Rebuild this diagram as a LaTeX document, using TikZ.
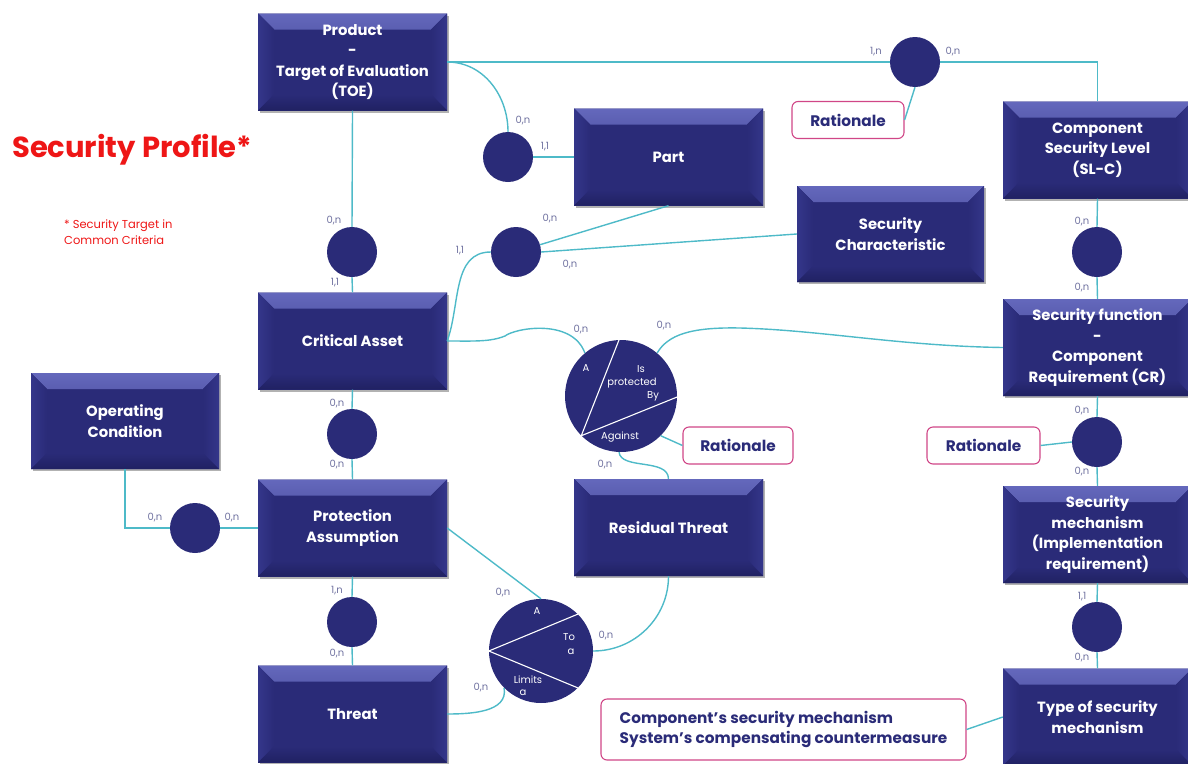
\documentclass[tikz,border=0pt]{standalone}
\usepackage{fontspec}
\setmainfont{Poppins}
\usetikzlibrary{shadows,calc}
\definecolor{navy}{RGB}{42,43,120}
\definecolor{navytop}{RGB}{100,104,188}
\definecolor{navyside}{RGB}{52,54,138}
\definecolor{navydark}{RGB}{32,33,98}
\definecolor{link}{RGB}{78,186,200}
\definecolor{rose}{RGB}{208,70,135}
\definecolor{cardgray}{RGB}{112,114,160}
\definecolor{titlered}{RGB}{238,22,22}
\begin{document}
\begin{tikzpicture}[x=1pt,y=-1pt,
  entity/.style={rectangle, fill=navy, minimum width=189pt, minimum height=97pt,
    inner sep=0pt, text=white, align=center,
    font=\fontsize{14.8}{20.5}\selectfont\bfseries,
    drop shadow={shadow xshift=1.5pt, shadow yshift=-2pt, opacity=0.3, fill=black},
    path picture={
      \fill[top color=navytop, bottom color=navy]
        (path picture bounding box.north west) -- (path picture bounding box.north east)
        -- ([shift={(-16pt,-16pt)}]path picture bounding box.north east)
        -- ([shift={(16pt,-16pt)}]path picture bounding box.north west) -- cycle;
      \fill[left color=navyside, right color=navy]
        (path picture bounding box.north west) -- ([shift={(16pt,-16pt)}]path picture bounding box.north west)
        -- ([shift={(16pt,16pt)}]path picture bounding box.south west)
        -- (path picture bounding box.south west) -- cycle;
      \fill[left color=navy, right color=navyside]
        (path picture bounding box.north east) -- ([shift={(-16pt,-16pt)}]path picture bounding box.north east)
        -- ([shift={(-16pt,16pt)}]path picture bounding box.south east)
        -- (path picture bounding box.south east) -- cycle;
      \fill[top color=navy, bottom color=navydark]
        (path picture bounding box.south west) -- ([shift={(16pt,16pt)}]path picture bounding box.south west)
        -- ([shift={(-16pt,16pt)}]path picture bounding box.south east)
        -- (path picture bounding box.south east) -- cycle;
    }},
  rel/.style={circle, fill=navy, minimum size=50pt, inner sep=0pt},
  bigrel/.style={circle, fill=navy, inner sep=0pt},
  card/.style={text=cardgray, font=\fontsize{10}{11}\selectfont, inner sep=0pt},
  inner/.style={text=white, font=\fontsize{10}{11}\selectfont, inner sep=0pt},
  split/.style={draw=white, line width=1.1pt},
  rationale/.style={rectangle, rounded corners=6pt, draw=rose, line width=1.1pt, fill=white,
    text=navy, font=\fontsize{15.3}{20.5}\selectfont\bfseries, minimum width=112pt, minimum height=37pt, inner sep=0pt},
  conn/.style={draw=link, line width=1.4pt}
]
\useasboundingbox (0,0) rectangle (1188,763);

% title
\node[anchor=west, text=titlered, font=\fontsize{29}{32}\selectfont\bfseries, inner sep=0pt] (title) at (12,150) {Security Profile*};
\node[anchor=west, text=titlered, font=\fontsize{11.5}{16}\selectfont, align=left, inner sep=0pt] (subtitle) at (64,232) {* Security Target in\\Common Criteria};

% entities
\node[entity] (toe) at (352.5,62) {Product\\-\\Target of Evaluation\\(TOE)};
\node[entity] (ca) at (352.5,341) {Critical Asset};
\node[entity, minimum width=188pt, minimum height=96pt] (oc) at (125,421) {Operating\\Condition};
\node[entity] (pa) at (352.5,528) {Protection\\Assumption};
\node[entity] (threat) at (352.5,714) {Threat};
\node[entity] (part) at (668.5,157) {Part};
\node[entity, minimum width=187pt, minimum height=96pt] (schar) at (890.5,234) {Security\\Characteristic};
\node[entity] (slc) at (1097.5,150) {Component\\Security Level\\(SL-C)};
\node[entity] (cr) at (1097.5,347.5) {Security function\\-\\Component\\Requirement (CR)};
\node[entity] (sm) at (1097.5,534.5) {Security\\mechanism\\(Implementation\\requirement)};
\node[entity] (type) at (1097.5,717) {Type of security\\mechanism};
\node[entity] (rt) at (668.5,527.5) {Residual Threat};

% rationales
\node[rationale] (rat1) at (848,120) {Rationale};
\node[rationale, minimum width=110pt] (rat2) at (738,445.5) {Rationale};
\node[rationale, minimum width=113pt] (rat3) at (983.5,445.5) {Rationale};
\node[rationale, minimum width=365pt, minimum height=61pt, align=left] (bigrat) at (783.5,729.5) {Component's security mechanism\\System's compensating countermeasure};

% relationships
\node[rel] (r1) at (352,252) {};
\node[rel] (r2) at (508,157) {};
\node[rel] (r3) at (516,252) {};
\node[rel] (r4) at (915,62) {};
\node[rel] (r5) at (1097,252) {};
\node[rel] (r6) at (352,434) {};
\node[rel] (r7) at (195,528) {};
\node[rel] (r8) at (352,622) {};
\node[rel] (r9) at (1097,442) {};
\node[rel] (r10) at (1097,627) {};
\node[bigrel, minimum size=112pt] (pc) at (621,396) {};
\node[bigrel, minimum size=104pt] (tc) at (541,651) {};

% partitions of the ternary relationships
\draw[split] (pc.92) -- (pc.225) -- (pc.-1);
\draw[split] (tc.45) -- (tc.180) -- (tc.-45);
\node[inner] (pa1) at (586,368) {A};
\node[inner] (pa2) at (641,369) {Is};
\node[inner] (pa3) at (632,383) {protected};
\node[inner] (pa4) at (653,396) {By};
\node[inner] (pa5) at (620,437) {Against};
\node[inner] (ta1) at (537,611) {A};
\node[inner] (ta2) at (569,637) {To};
\node[inner] (ta3) at (571,652) {a};
\node[inner] (ta4) at (528,680) {Limits};
\node[inner] (ta5) at (523,693) {a};

% connectors
\draw[conn] (toe.east) -- (r4.west);
\draw[conn] (r4.east) -| (slc.north);
\draw[conn] (r4.south) -- (rat1.east);
\draw[conn] (toe.east) to[out=0, in=90] (r2.north);
\draw[conn] (r2.east) -- (part.west);
\draw[conn] (toe.south) -- (r1.north);
\draw[conn] (r1.south) -- (ca.north);
\draw[conn] (ca.east) to[out=70, in=180] (r3.west);
\draw[conn] (r3) -- (part.south);
\draw[conn] (r3.east) -- (schar.west);
\draw[conn] (ca.east) .. controls (475,341) and (490,342) .. (505,336)
  .. controls (515,328) and (572,318) .. (pc.130);
\draw[conn] (pc.50) .. controls (668,335) and (690,327) .. (740,328)
  .. controls (820,330) and (900,346) .. (cr.west);
\draw[conn] (pc.268) .. controls (621,470) and (668,458) .. (rt.north);
\draw[conn] (pc.-45) -- (rat2.west);
\draw[conn] (slc.south) -- (r5.north);
\draw[conn] (r5.south) -- (cr.north);
\draw[conn] (cr.south) -- (r9.north);
\draw[conn] (r9.south) -- (sm.north);
\draw[conn] (r9.west) -- (rat3.east);
\draw[conn] (sm.south) -- (r10.north);
\draw[conn] (r10.south) -- (type.north);
\draw[conn] (bigrat.east) -- (type.west);
\draw[conn] (ca.south) -- (r6.north);
\draw[conn] (r6.south) -- (pa.north);
\draw[conn] (oc.south) |- (r7.west);
\draw[conn] (r7.east) -- (pa.west);
\draw[conn] (pa.south) -- (r8.north);
\draw[conn] (r8.south) -- (threat.north);
\draw[conn] (pa.east) -- (tc.north);
\draw[conn] (threat.east) to[out=0, in=-80] (tc.225);
\draw[conn] (rt.south) to[out=-90, in=0] (tc.east);

% cardinalities
\node[card] (k1) at (334,221) {0,n};
\node[card] (k2) at (335,283) {1,1};
\node[card] (k3) at (523,121) {0,n};
\node[card] (k4) at (545,147) {1,1};
\node[card] (k5) at (460,251) {1,1};
\node[card] (k6) at (550,219) {0,n};
\node[card] (k7) at (570,265) {0,n};
\node[card] (k8) at (876,52) {1,n};
\node[card] (k9) at (953,52) {0,n};
\node[card] (k10) at (581,330) {0,n};
\node[card] (k11) at (664,326) {0,n};
\node[card] (k12) at (605,465) {0,n};
\node[card] (k13) at (1082,222) {0,n};
\node[card] (k14) at (1082,288) {0,n};
\node[card] (k15) at (1082,411) {0,n};
\node[card] (k16) at (1082,472) {0,n};
\node[card] (k17) at (1082,597) {1,1};
\node[card] (k18) at (1082,658) {0,n};
\node[card] (k19) at (337,404) {0,n};
\node[card] (k20) at (337,465) {0,n};
\node[card] (k21) at (155,518) {0,n};
\node[card] (k22) at (232,518) {0,n};
\node[card] (k23) at (337,591) {1,n};
\node[card] (k24) at (337,654) {0,n};
\node[card] (k25) at (503,593) {0,n};
\node[card] (k26) at (481,688) {0,n};
\node[card] (k27) at (606,636) {0,n};
\end{tikzpicture}
\end{document}
